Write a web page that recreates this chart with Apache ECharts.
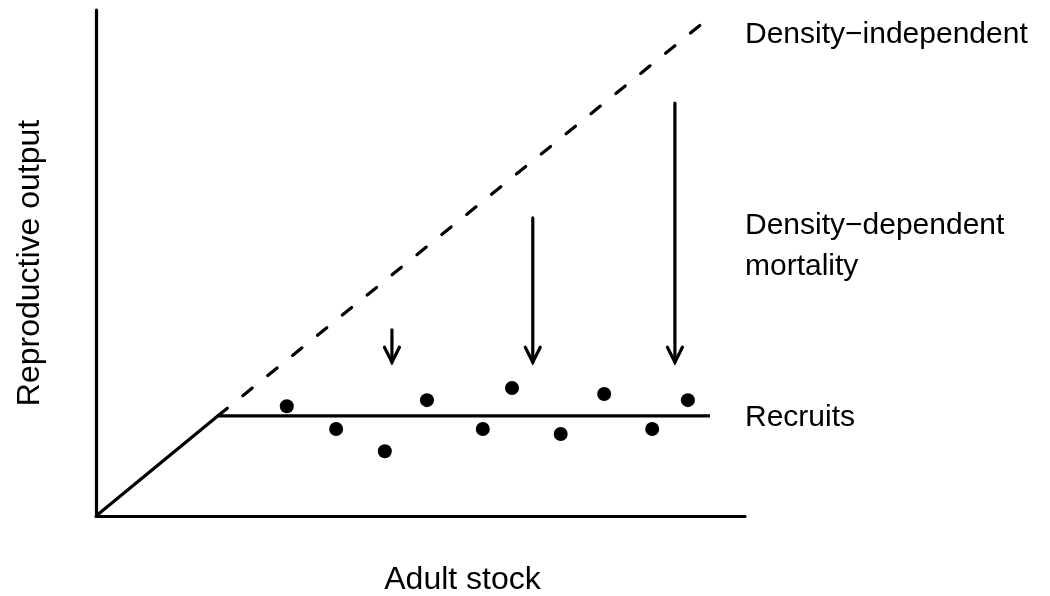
<!DOCTYPE html>
<html>
<head>
<meta charset="utf-8">
<script src="https://cdn.jsdelivr.net/npm/echarts@6/dist/echarts.min.js"></script>
<style>
  html, body { margin: 0; padding: 0; background: #fff; }
  #chart { width: 1050px; height: 596px; }
</style>
</head>
<body>
<div id="chart"></div>
<script>
// schematic units, 0-100 on both axes
const recruitLine = [[0, 0], [18.8, 19.8], [94.6, 19.8]];
const densityIndependent = [[18.8, 19.8], [93.1, 97.0]];
const dotsX = [29.4, 37.0, 44.5, 51.0, 59.6, 64.1, 71.6, 78.3, 85.7, 91.2];
const dotsY = [21.7, 17.2, 12.8, 22.9, 17.2, 25.3, 16.2, 24.1, 17.2, 22.9];
const arrowX = [45.6, 67.3, 89.2];
const arrowTop = [36.8, 58.9, 81.6];
const arrowBottom = [30.4, 30.4, 30.4];

const FONT = "'Liberation Sans', Arial, sans-serif";

var myChart = echarts.init(document.getElementById('chart'));

var hiddenAxis = {
    type: 'value',
    min: 0,
    max: 100,
    axisLine: { show: true, lineStyle: { color: '#000', width: 3.2 } },
    axisTick: { show: false },
    axisLabel: { show: false },
    splitLine: { show: false },
    nameLocation: 'middle',
    nameTextStyle: { color: '#000', fontSize: 32, fontFamily: FONT }
};

var options = {
    animation: false,
    backgroundColor: '#fff',
    grid: { left: 96, right: 305, top: 10, bottom: 80, outerBoundsMode: 'none', containLabel: false },
    xAxis: Object.assign({}, hiddenAxis, {
        name: 'Adult stock',
        nameGap: 48,
        nameTextStyle: { color: '#000', fontSize: 32, fontFamily: FONT, padding: [0, 0, 0, 84] }
    }),
    yAxis: Object.assign({}, hiddenAxis, { name: 'Reproductive output', nameGap: 50 }),
    series: [
        {
            type: 'line',
            data: recruitLine,
            symbol: 'none',
            lineStyle: { color: '#000', width: 3.2 }
        },
        {
            type: 'line',
            data: densityIndependent,
            symbol: 'none',
            lineStyle: { color: '#000', width: 3.2, type: [12, 20], cap: 'round' }
        },
        {
            type: 'scatter',
            data: dotsX.map((x, i) => [x, dotsY[i]]),
            symbol: 'circle',
            symbolSize: 14,
            itemStyle: { color: '#000', opacity: 1 }
        },
        {
            // arrows: shaft plus open chevron head
            type: 'custom',
            data: arrowX.map((x, i) => [x, arrowTop[i], arrowBottom[i]]),
            renderItem: function (params, api) {
                var top = api.coord([api.value(0), api.value(1)]);
                var bot = api.coord([api.value(0), api.value(2)]);
                var st = { stroke: '#000', lineWidth: 3.2, fill: null, lineCap: 'round', lineJoin: 'miter' };
                return {
                    type: 'group',
                    children: [
                        { type: 'line', shape: { x1: top[0], y1: top[1], x2: bot[0], y2: bot[1] }, style: st },
                        { type: 'polyline', shape: { points: [[bot[0] - 7.5, bot[1] - 15], [bot[0], bot[1]], [bot[0] + 7.5, bot[1] - 15]] }, style: st }
                    ]
                };
            }
        }
    ],
    graphic: [
        { type: 'text', left: 745, top: 20, style: { text: 'Density\u2212independent', fill: '#000', font: '30px ' + FONT } },
        { type: 'text', left: 745, top: 211, style: { text: 'Density\u2212dependent', fill: '#000', font: '30px ' + FONT } },
        { type: 'text', left: 745, top: 252, style: { text: 'mortality', fill: '#000', font: '30px ' + FONT } },
        { type: 'text', left: 745, top: 403, style: { text: 'Recruits', fill: '#000', font: '30px ' + FONT } }
    ]
};
myChart.setOption(options);
</script>
</body>
</html>
